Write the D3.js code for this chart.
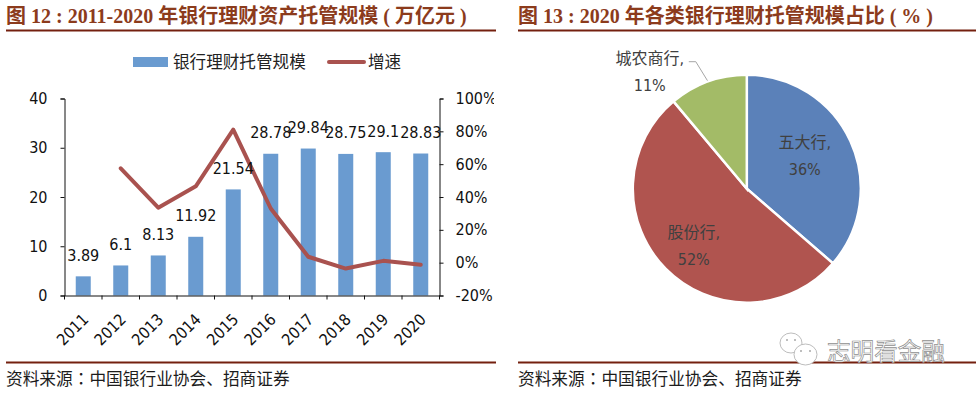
<!DOCTYPE html>
<html>
<head>
<meta charset="utf-8">
<script src="https://cdnjs.cloudflare.com/ajax/libs/d3/7.8.5/d3.min.js"></script>
<style>
  html, body { margin: 0; padding: 0; background: #fff; }
  svg { display: block; }
  text { font-family: "DejaVu Sans", "Noto Sans CJK SC", sans-serif; }
  .title { font-family: "Liberation Serif", "Noto Sans CJK SC", serif; font-weight: 700; font-size: 20px; fill: #8c3b1c; }
  .source { font-family: "Noto Sans CJK SC", sans-serif; font-size: 16.7px; fill: #1c1c1c; }
  .colon { font-family: "Noto Sans CJK TC", sans-serif; }
  .axis text { font-family: "DejaVu Sans", sans-serif; font-stretch: condensed; font-size: 16px; fill: #111; }
  .axis path, .axis line { stroke: #111; stroke-width: 1; }
  .label { font-family: "DejaVu Sans", sans-serif; font-stretch: condensed; font-size: 16px; fill: #111; text-anchor: middle; }
  .legend { font-family: "Noto Sans CJK SC", sans-serif; font-size: 16.6px; fill: #222; }
  .pie-name { font-family: "DejaVu Sans", "Noto Sans CJK SC", sans-serif; font-stretch: condensed; font-size: 16px; fill: #404040; text-anchor: middle; }
  .pie-share { font-family: "DejaVu Sans", sans-serif; font-stretch: condensed; font-size: 16px; fill: #404040; text-anchor: middle; }
</style>
</head>
<body>
<div id="chart"></div>
<script>
var svgWidth = 976;
var svgHeight = 394;

// left chart
const years = ["2011", "2012", "2013", "2014", "2015", "2016", "2017", "2018", "2019", "2020"];
const scale = [3.89, 6.1, 8.13, 11.92, 21.54, 28.78, 29.84, 28.75, 29.1, 28.83];
const growth = [null, 57.5, 33.5, 46.5, 81, 33, 3.6, -3.6, 1.1, -1.3];
const scaleTicks = [0, 10, 20, 30, 40];
const growthTicks = [-20, 0, 20, 40, 60, 80, 100];

// right chart
const bankTypes = ["五大行,", "股份行,", "城农商行,"];
const bankShares = [36, 52, 11];
const sliceColors = ["#5b81b9", "#b0544f", "#a3bb67"];

const barColor = "#6a9bd0";
const lineColor = "#a9524f";
const ruleColor = "#74200f";

var svg = d3.select("#chart")
  .append("svg")
  .attr("width", svgWidth)
  .attr("height", svgHeight);

// Titles, rules and sources
svg.append("text").attr("class", "title").attr("x", 6).attr("y", 23)
  .text("图 12 : 2011-2020 年银行理财资产托管规模 ( 万亿元 )");
svg.append("text").attr("class", "title").attr("x", 518).attr("y", 23)
  .text("图 13 : 2020 年各类银行理财托管规模占比 ( % )");

[[6, 496], [518, 976]].forEach(r => {
  svg.append("line").attr("x1", r[0]).attr("x2", r[1]).attr("y1", 30.5).attr("y2", 30.5)
    .attr("stroke", ruleColor).attr("stroke-width", 2);
  svg.append("line").attr("x1", r[0]).attr("x2", r[1]).attr("y1", 362.5).attr("y2", 362.5)
    .attr("stroke", ruleColor).attr("stroke-width", 2);
  var src = svg.append("text").attr("class", "source").attr("x", r[0]).attr("y", 385);
  src.append("tspan").text("资料来源");
  src.append("tspan").attr("class", "colon").text("：");
  src.append("tspan").text("中国银行业协会、招商证券");
});

// Scales
var margin = { top: 98.5, left: 64.5, right: 439.5, bottom: 295.5 };

var x = d3.scaleBand().domain(years).range([margin.left, margin.right]).paddingInner(0.6).paddingOuter(0.3);
var y = d3.scaleLinear().domain([0, 40]).range([margin.bottom, margin.top]);
var y2 = d3.scaleLinear().domain([-20, 100]).range([margin.bottom, margin.top]);

// Bars
svg.selectAll("rect.bar").data(scale).enter().append("rect")
  .attr("class", "bar")
  .attr("x", (d, i) => x(years[i]))
  .attr("y", d => y(d))
  .attr("width", x.bandwidth())
  .attr("height", d => y(0) - y(d))
  .attr("fill", barColor);

// Axes
svg.append("clipPath").attr("id", "rightClip")
  .append("rect").attr("x", 430).attr("y", 80).attr("width", 64).attr("height", 240);

svg.append("g").attr("class", "axis")
  .attr("transform", `translate(${margin.left},0)`)
  .call(d3.axisLeft(y).tickValues(scaleTicks).tickSize(4).tickSizeOuter(4).tickPadding(13));

svg.append("g").attr("clip-path", "url(#rightClip)")
  .append("g").attr("class", "axis")
  .attr("transform", `translate(${margin.right},0)`)
  .call(d3.axisRight(y2).tickValues(growthTicks).tickFormat(d => d + "%").tickSize(4).tickSizeOuter(4).tickPadding(12));

var xAxis = svg.append("g").attr("class", "axis")
  .attr("transform", `translate(0,${margin.bottom})`)
  .call(d3.axisBottom(x).tickSize(0));

// tick marks sit between the categories
var step = x.step();
xAxis.selectAll(".edge").data(d3.range(years.length + 1)).enter().append("line")
  .attr("class", "edge")
  .attr("x1", i => margin.left + i * step)
  .attr("x2", i => margin.left + i * step)
  .attr("y1", 0).attr("y2", 4);

xAxis.selectAll(".tick text")
  .attr("text-anchor", "end")
  .attr("dx", 0).attr("dy", 0)
  .attr("transform", "translate(4,23) rotate(-45)");

// Growth line
var line = d3.line()
  .defined(d => d !== null)
  .x((d, i) => x(years[i]) + x.bandwidth() / 2)
  .y(d => y2(d));

svg.append("path").datum(growth)
  .attr("d", line)
  .attr("fill", "none")
  .attr("stroke", lineColor)
  .attr("stroke-width", 4)
  .attr("stroke-linecap", "round")
  .attr("stroke-linejoin", "round");

// Data labels
svg.selectAll("text.label").data(scale).enter().append("text")
  .attr("class", "label")
  .attr("x", (d, i) => x(years[i]) + x.bandwidth() / 2)
  .attr("y", d => y(d) - 15.5)
  .text(d => d);

// Legend
svg.append("rect").attr("x", 133).attr("y", 57).attr("width", 35).attr("height", 10).attr("fill", barColor);
svg.append("text").attr("class", "legend").attr("x", 173).attr("y", 68).text("银行理财托管规模");
svg.append("line").attr("x1", 329).attr("x2", 364).attr("y1", 62).attr("y2", 62)
  .attr("stroke", lineColor).attr("stroke-width", 4).attr("stroke-linecap", "round");
svg.append("text").attr("class", "legend").attr("x", 368).attr("y", 68).text("增速");

// Pie
var pieCenter = [746.8, 188.7];
var radius = 114;
var pie = d3.pie().sort(null)(bankShares);
var arc = d3.arc().innerRadius(0).outerRadius(radius);

var pieG = svg.append("g").attr("transform", `translate(${pieCenter[0]},${pieCenter[1]})`);
pieG.selectAll("path").data(pie).enter().append("path")
  .attr("d", arc)
  .attr("fill", (d, i) => sliceColors[i])
  .attr("stroke", "#fff")
  .attr("stroke-width", 2.5);

// Leader line for the small slice
var labelArc = d3.arc().innerRadius(radius + 1).outerRadius(radius + 1);
var leaderEnd = labelArc.centroid(pie[2]);
pieG.append("polyline")
  .attr("points", [[-58, -127], [-51, -127], leaderEnd].map(p => p.join(",")).join(" "))
  .attr("fill", "none")
  .attr("stroke", "#a6a6a6")
  .attr("stroke-width", 1);

// Pie labels, name on one line and the share under it
const pieLabelPos = [[58, -41], [-53, 49], [-97, -125]];
pie.forEach((d, i) => {
  pieG.append("text").attr("class", "pie-name")
    .attr("x", pieLabelPos[i][0]).attr("y", pieLabelPos[i][1])
    .text(bankTypes[i]);
  pieG.append("text").attr("class", "pie-share")
    .attr("x", pieLabelPos[i][0]).attr("y", pieLabelPos[i][1] + 27)
    .text(bankShares[i] + "%");
});

// WeChat watermark
var wm = svg.append("g");
[[791, 343, 11, 10], [805.5, 354.5, 11.5, 10.5]].forEach(c => {
  wm.append("ellipse").attr("cx", c[0]).attr("cy", c[1]).attr("rx", c[2]).attr("ry", c[3])
    .attr("fill", "#fff").attr("stroke", "#bdbdbd").attr("stroke-width", 1);
});
[[787, 340], [795, 340], [801, 351], [810, 351]].forEach(c => {
  wm.append("circle").attr("cx", c[0]).attr("cy", c[1]).attr("r", 1).attr("fill", "#a8a8a8");
});
wm.append("text").attr("x", 827).attr("y", 360)
  .attr("font-family", "Noto Sans CJK SC")
  .attr("font-size", 23.6)
  .attr("fill", "#fff").attr("stroke", "#8f8f8f").attr("stroke-width", 0.7)
  .text("志明看金融");
</script>
</body>
</html>
